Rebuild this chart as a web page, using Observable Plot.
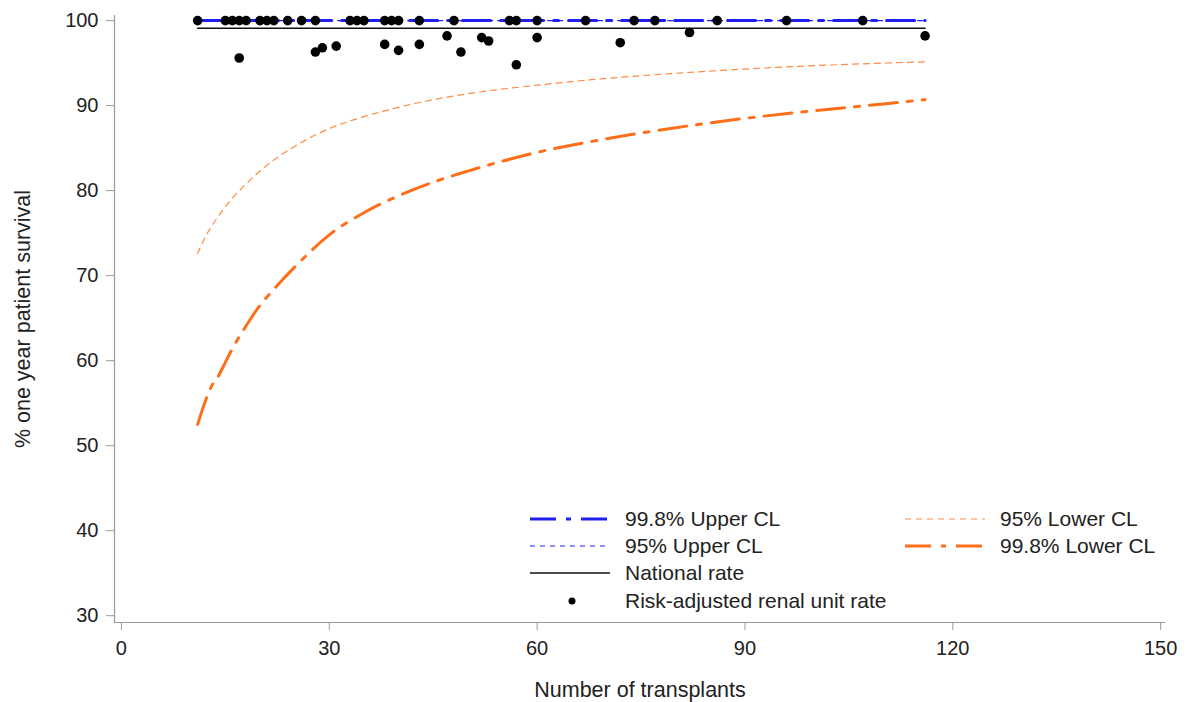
<!DOCTYPE html>
<html>
<head>
<meta charset="utf-8">
<script src="https://cdn.jsdelivr.net/npm/d3@7"></script>
<script src="https://cdn.jsdelivr.net/npm/@observablehq/plot@0.6"></script>
<style>
  html, body { margin: 0; padding: 0; background: #fff; }
  #wrap { position: relative; width: 1189px; height: 702px; font-family: "Liberation Sans", Arial, sans-serif; }
  .lg { position: absolute; display: flex; align-items: center; font-size: 21px; color: #222; white-space: nowrap; }
  .lg svg { margin-right: 15px; }
</style>
</head>
<body>
<div id="wrap"></div>
<script>
// ---- data ----
const xTicks = [0, 30, 60, 90, 120, 150];
const yTicks = [30, 40, 50, 60, 70, 80, 90, 100];
const xDomain = [-1, 150.7];
const yDomain = [29.2, 100.6];

// renal units: number of transplants and risk-adjusted one-year survival (%)
const unitN = [11, 15, 16, 17, 17, 18, 20, 21, 22, 24, 26, 28, 28, 29, 31, 33, 34, 35,
  38, 38, 39, 40, 40, 43, 43, 47, 48, 49, 52, 53, 56, 57, 57, 60, 60, 67, 72, 74, 77, 82, 86, 96, 107, 116];
const unitRate = [100, 100, 100, 100, 95.6, 100, 100, 100, 100, 100, 100, 100, 96.3, 96.8, 97.0, 100, 100, 100,
  100, 97.2, 100, 100, 96.5, 100, 97.2, 98.2, 100, 96.3, 98.0, 97.6, 100, 100, 94.8, 100, 98.0, 100, 97.4, 100, 100, 98.6, 100, 100, 100, 98.2];

// control limits
const clN = [11, 12, 13, 14, 15, 16, 18, 20, 22, 25, 30, 35, 40, 45, 50, 60, 70, 80, 90, 100, 110, 116];
const lower95 = [72.6, 74.4, 75.8, 77.0, 78.1, 79.1, 80.8, 82.3, 83.6, 85.2, 87.3, 88.7, 89.8, 90.7, 91.4, 92.4, 93.2, 93.8, 94.3, 94.7, 95.0, 95.15];
const lower998 = [52.5, 55.0, 57.0, 58.2, 59.8, 61.4, 64.1, 66.5, 68.4, 71.0, 74.8, 77.4, 79.4, 81.0, 82.3, 84.5, 86.1, 87.4, 88.5, 89.4, 90.2, 90.7];
const upper95 = clN.map(() => 100);
const upper998 = clN.map(() => 100);
const nationalRate = 99.1;
const clRange = [11, 116];

const units = unitN.map((n, i) => ({n, rate: unitRate[i]}));
const lim = clN.map((n, i) => ({n, l95: lower95[i], l998: lower998[i], u95: upper95[i], u998: upper998[i]}));
const nat = clRange.map(n => ({n, rate: nationalRate}));

const BLUE = "#1f1ff2";
const ORANGE = "#ff6f1a";
const ORANGE_LIGHT = "#ff8c42";
const AXIS = "#9a9a9a";

const chart = Plot.plot({
  width: 1189,
  height: 702,
  marginLeft: 114,
  marginRight: 24,
  marginTop: 15,
  marginBottom: 80,
  style: {fontFamily: "'Liberation Sans', Arial, sans-serif", fontSize: "20px", color: "#222", background: "white", overflow: "visible"},
  x: {domain: xDomain},
  y: {domain: yDomain},
  marks: [
    Plot.axisX({ticks: xTicks, tickSize: 8, tickPadding: 10, stroke: AXIS, fill: "#222",
      label: null}),
    Plot.axisX({ticks: [], label: "Number of transplants", labelAnchor: "center", labelOffset: 74, labelArrow: "none", fontSize: 21.5, fill: "#222"}),
    Plot.axisY({ticks: yTicks, tickSize: 8, tickPadding: 8, stroke: AXIS, fill: "#222",
      label: null}),
    Plot.axisY({ticks: [], label: "% one year patient survival", labelAnchor: "center", labelOffset: 100, labelArrow: "none", fontSize: 21.5, fill: "#222"}),
    Plot.ruleX([xDomain[0]], {stroke: AXIS, strokeWidth: 1.2}),
    Plot.ruleY([yDomain[0]], {stroke: AXIS, strokeWidth: 1.2}),
    Plot.line(nat, {x: "n", y: "rate", stroke: "#111", strokeWidth: 1.6}),
    Plot.line(lim, {x: "n", y: "l95", stroke: ORANGE_LIGHT, strokeWidth: 1.2, strokeDasharray: "6,5", curve: "monotone-x"}),
    Plot.line(lim, {x: "n", y: "l998", stroke: ORANGE, strokeWidth: 3, strokeDasharray: "28,10,5,10", curve: "monotone-x"}),
    Plot.line(lim, {x: "n", y: "u95", stroke: BLUE, strokeWidth: 1.2, strokeDasharray: "5,5"}),
    Plot.line(lim, {x: "n", y: "u998", stroke: BLUE, strokeWidth: 3, strokeDasharray: "28,10,5,10"}),
    Plot.dot(units, {x: "n", y: "rate", r: 4.8, fill: "#000", stroke: null})
  ]
});

const wrap = document.getElementById("wrap");
wrap.appendChild(chart);

// legend (inside the plot area, bottom right)
const legendItems = [
  {label: "99.8% Upper CL", color: BLUE, width: 3, dash: "26,10,5,10", left: 530, top: 519},
  {label: "95% Upper CL", color: BLUE, width: 1.2, dash: "5,5", left: 530, top: 546},
  {label: "National rate", color: "#111", width: 1.4, dash: null, left: 530, top: 573},
  {label: "Risk-adjusted renal unit rate", dot: true, left: 530, top: 601},
  {label: "95% Lower CL", color: ORANGE_LIGHT, width: 1.2, dash: "6,5", left: 905, top: 519},
  {label: "99.8% Lower CL", color: ORANGE, width: 3, dash: "26,10,5,10", left: 905, top: 546}
];
for (const it of legendItems) {
  const d = document.createElement("div");
  d.className = "lg";
  d.style.left = it.left + "px";
  d.style.top = (it.top - 12) + "px";
  d.style.height = "24px";
  const sw = it.dot
    ? `<svg width="80" height="24"><circle cx="42" cy="12" r="3.5" fill="#000"/></svg>`
    : `<svg width="80" height="24"><line x1="0" x2="80" y1="12" y2="12" stroke="${it.color}" stroke-width="${it.width}" ${it.dash ? `stroke-dasharray="${it.dash}"` : ""}/></svg>`;
  d.innerHTML = sw + `<span>${it.label}</span>`;
  wrap.appendChild(d);
}
</script>
</body>
</html>
